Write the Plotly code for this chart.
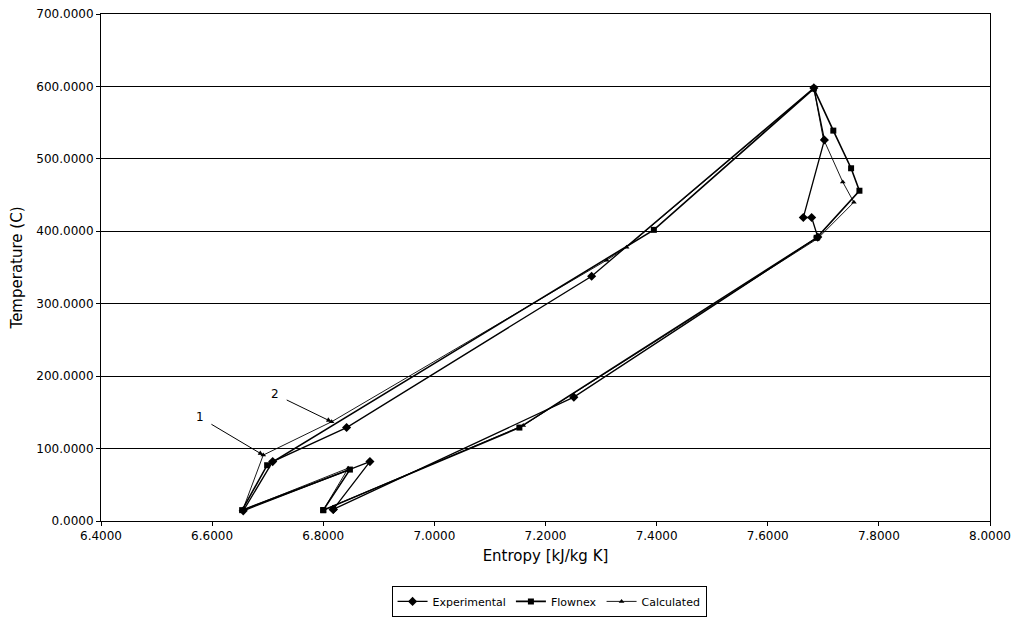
import plotly.graph_objects as go

# ---- data (entropy kJ/kg K, temperature C) ----
exp_s = [6.818, 6.884, 6.656, 6.709, 6.842, 7.283, 7.683, 7.702, 7.664, 7.679, 7.690, 7.251, 6.818]
exp_T = [16, 82, 14, 82, 129, 338, 598, 526, 419, 419, 392, 171, 16]

flx_s = [6.800, 6.848, 6.654, 6.699, 7.395, 7.683, 7.718, 7.750, 7.765, 7.688, 7.153, 6.800]
flx_T = [15, 71, 15, 77, 402, 597, 539, 487, 456, 391, 129, 15]

calc_s = [6.800, 6.845, 6.655, 6.692, 6.815, 7.310, 7.346, 7.683, 7.700, 7.735, 7.755, 7.690, 7.160, 6.800]
calc_T = [15, 73, 15, 91, 137, 360, 378, 597, 528, 468, 440, 390, 132, 15]

x_ticks = [6.4, 6.6, 6.8, 7.0, 7.2, 7.4, 7.6, 7.8, 8.0]
y_ticks = [0, 100, 200, 300, 400, 500, 600, 700]

ann_text = ["1", "2"]
ann_text_s = [6.578, 6.713]
ann_text_T = [143, 175]
ann_head_s = [6.692, 6.815]
ann_head_T = [91, 137]

FONT = "DejaVu Sans, Liberation Sans, Arial, sans-serif"

fig = go.Figure()
fig.add_trace(go.Scatter(
    x=exp_s, y=exp_T, mode="lines+markers", name="Experimental",
    line=dict(color="black", width=1.3),
    marker=dict(symbol="diamond", size=7, color="black")))
fig.add_trace(go.Scatter(
    x=flx_s, y=flx_T, mode="lines+markers", name="Flownex",
    line=dict(color="black", width=1.6),
    marker=dict(symbol="square", size=6, color="black")))
fig.add_trace(go.Scatter(
    x=calc_s, y=calc_T, mode="lines+markers", name="Calculated",
    line=dict(color="black", width=0.9),
    marker=dict(symbol="triangle-up", size=5, color="black")))

for t, xs, ys, hx, hy in zip(ann_text, ann_text_s, ann_text_T, ann_head_s, ann_head_T):
    fig.add_annotation(x=hx, y=hy, ax=xs, ay=ys, xref="x", yref="y", axref="x", ayref="y",
                       text=t, showarrow=True, arrowhead=2, arrowsize=1, arrowwidth=1,
                       arrowcolor="black", font=dict(family=FONT, size=12, color="black"),
                       standoff=0, startstandoff=7)

fig.update_layout(
    width=1013, height=618,
    margin=dict(l=101, r=23, t=14, b=97, autoexpand=False),
    paper_bgcolor="white", plot_bgcolor="white",
    font=dict(family=FONT, size=12, color="black"),
    showlegend=True,
    legend=dict(orientation="h", x=0.504, xanchor="center", y=-0.128, yanchor="top",
                bordercolor="black", borderwidth=1, font=dict(size=11, family=FONT),
                itemwidth=30, tracegroupgap=0),
)
fig.update_xaxes(
    range=[6.4, 8.0], tickvals=x_ticks, ticktext=[f"{v:.4f}" for v in x_ticks],
    showgrid=False, zeroline=False, showline=True, linecolor="black", linewidth=1,
    mirror=True, ticks="outside", ticklen=4, tickcolor="black", automargin=False,
    tickfont=dict(size=12, family=FONT),
    title=dict(text="Entropy [kJ/kg K]", font=dict(size=15, family=FONT), standoff=8))
fig.update_yaxes(
    range=[0, 700], tickvals=y_ticks, ticktext=[f"{v:.4f}" for v in y_ticks],
    showgrid=True, gridcolor="black", gridwidth=1, zeroline=False,
    showline=True, linecolor="black", linewidth=1, mirror=True,
    ticks="outside", ticklen=4, tickcolor="black", automargin=False,
    tickfont=dict(size=12, family=FONT),
    title=dict(text="Temperature (C)", font=dict(size=15, family=FONT), standoff=10))

fig.write_html("out.html")
